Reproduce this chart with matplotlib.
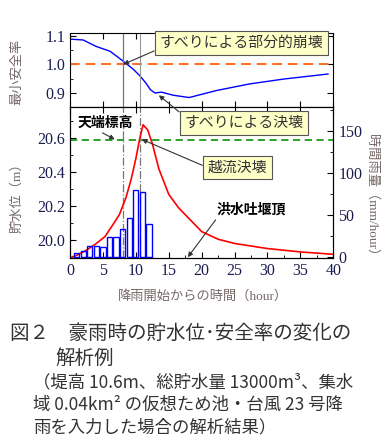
#!/usr/bin/env python3

import matplotlib
matplotlib.use('Agg')
import matplotlib.pyplot as plt
from matplotlib.ticker import MultipleLocator

# safety factor (top panel)
sf_hour = [0, 2.0, 4.0, 6.1, 8.1, 9.6, 10.6, 11.5, 12.2, 12.9, 13.9, 15.7, 18.1, 22.3, 27.3, 32.4, 39.2]
sf_value = [1.089, 1.086, 1.063, 1.046, 1.011, 0.983, 0.960, 0.935, 0.911, 0.899, 0.902, 0.891, 0.883, 0.908, 0.931, 0.948, 0.966]

# reservoir water level (bottom panel, left axis)
wl_hour = [0, 1.0, 2.5, 4.0, 5.3, 6.5, 7.5, 8.5, 9.3, 10.0, 10.6, 11.1, 11.8, 12.5, 13.5, 15.0, 16.5, 17.5, 20.0, 22.5, 25.0, 30.0, 35.0, 40.0]
wl_value = [19.896, 19.91, 19.94, 19.98, 20.02, 20.09, 20.15, 20.25, 20.36, 20.48, 20.60, 20.68, 20.65, 20.57, 20.42, 20.27, 20.19, 20.15, 20.05, 20.005, 19.98, 19.95, 19.93, 19.916]

# hourly rainfall (bottom panel, right axis)
rain_hour = [1, 2, 3, 4, 5, 6, 7, 8, 9, 10, 11, 12]
rain_mm = [4, 6.5, 12.7, 12.7, 11.5, 24, 24, 33, 46, 79, 77, 38.6]

crest_level = 20.592
slip_partial_hour = 8.1
overflow_hour = 10.6

plt.rcParams['font.family'] = ['Liberation Serif', 'Noto Sans CJK JP', 'DejaVu Sans']
jp = ['Noto Sans CJK JP', 'DejaVu Sans']
mixed = ['Liberation Serif', 'Noto Sans CJK JP']
tick_color = '#1c1c50'
label_color = '#756868'


def style_axis(ax):
	ax.tick_params(direction='in', which='both', colors='black', labelcolor=tick_color,
				   labelsize=11.5)
	ax.tick_params(which='major', length=4)
	ax.tick_params(which='minor', length=2)


def plot_results():
	fig = plt.figure(figsize=(3.86, 4.47), dpi=100)
	left, width = 70 / 386, 263.3 / 386
	ax1 = fig.add_axes([left, 1 - 107 / 447, width, 74 / 447])
	ax2 = fig.add_axes([left, 1 - 257.7 / 447, width, 150.7 / 447])
	ax3 = ax2.twinx()

	# top panel
	ax1.plot(sf_hour, sf_value, color='blue', lw=1.0)
	ax1.axhline(1.0, color='#ff6a20', lw=1.4, ls=(0, (5, 3)))
	ax1.axvline(slip_partial_hour, color='#777777', lw=0.9)
	ax1.axvline(overflow_hour, color='#999999', lw=0.8)
	ax1.set_xlim(0, 40)
	ax1.set_ylim(0.8496, 1.1106)
	ax1.xaxis.set_major_locator(MultipleLocator(5))
	ax1.yaxis.set_minor_locator(MultipleLocator(0.05))
	ax1.tick_params(labelbottom=False, top=True, right=True)
	ax1.set_yticks([0.9, 1.0, 1.1])
	ax1.set_yticklabels(['0.9', '1.0', '1.1'])
	style_axis(ax1)
	ax1.set_ylabel('最小安全率', family=mixed, color=label_color, fontsize=9.5)
	ax1.yaxis.set_label_coords(-0.178, 0.48)

	# bottom panel
	ax2.plot(wl_hour, wl_value, color='red', lw=1.2, zorder=3)
	ax2.axhline(crest_level, color='#1a9a1a', lw=1.3, ls=(0, (4, 2.5)))
	ax2.axvline(slip_partial_hour, color='#777777', lw=0.9, ls='-.')
	ax2.axvline(overflow_hour, color='#777777', lw=0.9, ls='-.')
	ax2.set_xlim(0, 40)
	ax2.set_ylim(19.896, 20.785)
	ax2.xaxis.set_minor_locator(MultipleLocator(2.5))
	ax2.yaxis.set_minor_locator(MultipleLocator(0.1))
	ax2.set_yticks([20.0, 20.2, 20.4, 20.6])
	ax2.set_yticklabels(['20.0', '20.2', '20.4', '20.6'])
	ax2.set_xticks(range(0, 41, 5))
	ax2.set_xticklabels([str(v) for v in range(0, 41, 5)])
	ax2.tick_params(top=True)
	style_axis(ax2)
	ax2.set_ylabel('貯水位（m）', family=mixed, color=label_color, fontsize=9.5)
	ax2.yaxis.set_label_coords(-0.178, 0.416)
	ax2.set_xlabel('降雨開始からの時間（hour）', family=mixed, color=label_color, fontsize=9.5)
	ax2.xaxis.set_label_coords(0.505, -0.214)

	ax3.bar(rain_hour, rain_mm, width=0.8, fill=False, edgecolor='blue', lw=1.0)
	ax3.set_ylim(-1.2, 178.6)
	ax3.set_yticks([0, 50, 100, 150])
	ax3.set_yticklabels(['0', '50', '100', '150'])
	ax3.yaxis.set_minor_locator(MultipleLocator(25))
	style_axis(ax3)
	ax3.set_ylabel('時間雨量（mm/hour）', family=mixed, color=label_color, fontsize=9.5,
				   rotation=270, va='center')
	ax3.yaxis.set_label_coords(1.146, 0.396)

	box = dict(boxstyle='square,pad=0.32', fc='#ffffc8', ec='#555555', lw=0.8)
	arrow = dict(arrowstyle='-|>', color='#333333', lw=0.8, mutation_scale=7, shrinkA=0, shrinkB=0)

	ax3.annotate('すべりによる部分的崩壊', xy=(8.1, 1.0), xycoords=ax1.transData,
				 xytext=(26.0, 1.075), textcoords=ax1.transData, ha='center', va='center',
				 family=jp, fontsize=10.7, color='#333333', bbox=box,
				 arrowprops=dict(arrow, relpos=(0, 0.1)))
	ax3.annotate('すべりによる決壊', xy=(13.5, 0.891), xycoords=ax1.transData,
				 xytext=(26.4, 20.69), textcoords=ax2.transData, ha='center', va='center',
				 family=jp, fontsize=10.7, color='#333333', bbox=box,
				 arrowprops=dict(arrow, relpos=(0, 1)))
	ax3.annotate('越流決壊', xy=(10.9, 20.594), xycoords=ax2.transData,
				 xytext=(25.4, 20.428), textcoords=ax2.transData, ha='center', va='center',
				 family=jp, fontsize=10.7, color='#333333', bbox=box,
				 arrowprops=dict(arrow, relpos=(0, 0.5)))
	ax3.annotate('天端標高', xy=(6.8, 20.594), xycoords=ax2.transData,
				 xytext=(5.4, 20.69), textcoords=ax2.transData, ha='center', va='center',
				 family=jp, fontsize=10, fontweight='bold', color='black',
				 arrowprops=dict(arrow, relpos=(0.35, 0)))
	ax3.annotate('洪水吐堰頂', xy=(17.9, 19.899), xycoords=ax2.transData,
				 xytext=(27.5, 20.177), textcoords=ax2.transData, ha='center', va='center',
				 family=jp, fontsize=10, fontweight='bold', color='black',
				 arrowprops=dict(arrow, relpos=(0.02, 0)))

	# caption
	cap = '#333333'
	fig.text(10 / 386, 1 - 333 / 447, '図２　豪雨時の貯水位･安全率の変化の', family=jp,
			 fontsize=14, color=cap, va='center')
	fig.text(55 / 386, 1 - 358 / 447, '解析例', family=jp, fontsize=14, color=cap, va='center')
	fig.text(33 / 386, 1 - 382 / 447, '（堤高 10.6m、総貯水量 13000m³、集水', family=jp,
			 fontsize=12.5, color=cap, va='center')
	fig.text(33 / 386, 1 - 405 / 447, '域 0.04km² の仮想ため池・台風 23 号降', family=jp,
			 fontsize=12.5, color=cap, va='center')
	fig.text(33 / 386, 1 - 427 / 447, '雨を入力した場合の解析結果）', family=jp,
			 fontsize=12.5, color=cap, va='center')

	fig.savefig('out.png', dpi=100)


if __name__ == '__main__':
	plot_results()
